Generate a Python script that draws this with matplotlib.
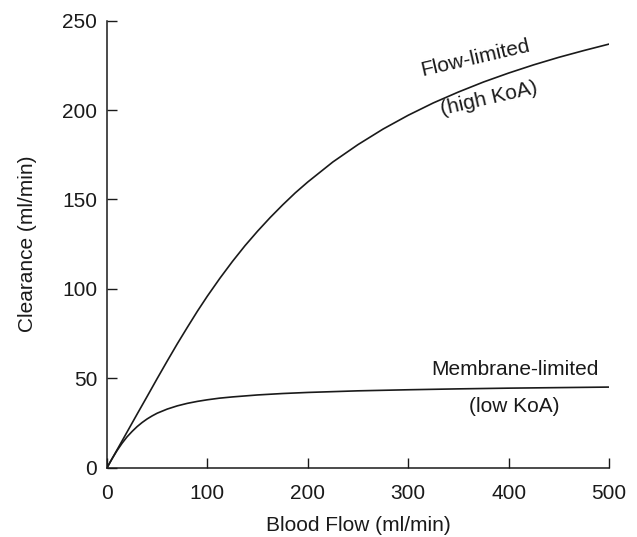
import matplotlib
matplotlib.use("Agg")
import matplotlib.pyplot as plt

# Data
flow_x = [0, 10, 20, 30, 40, 50, 60, 70, 80, 90, 100, 112.5, 125, 137.5, 150, 162.5, 175, 187.5,
          200, 225, 250, 275, 300, 325, 350, 375, 400, 425, 450, 475, 500]
flow_y = [0, 10, 20, 30, 39.9, 49.9, 59.7, 69.3, 78.5, 87.5, 96, 106, 115.4, 124.2, 132.3, 139.9,
          147, 153.7, 159.8, 171, 180.7, 189.4, 197.1, 204, 210.1, 215.7, 220.7, 225.3, 229.5, 233.3, 236.9]

memb_x = [0, 5, 10, 15, 20, 25, 30, 35, 40, 45, 50, 60, 70, 80, 90, 100, 112, 125, 150, 175,
          200, 250, 300, 350, 400, 450, 500]
memb_y = [0, 5, 9.6, 13.7, 17.3, 20.3, 23, 25.3, 27.3, 29, 30.5, 32.8, 34.6, 36, 37.1, 38, 38.9,
          39.6, 40.7, 41.5, 42.1, 43, 43.6, 44.1, 44.5, 44.8, 45.1]

x_ticks = [0, 100, 200, 300, 400, 500]
y_ticks = [0, 50, 100, 150, 200, 250]

plt.rcParams['font.family'] = ['Liberation Sans', 'DejaVu Sans']

fig = plt.figure(figsize=(6.37, 5.37), dpi=100)
ax = fig.add_axes([0.168, 0.129, 0.788, 0.8325])

col = '#1a1a1a'
ax.plot(flow_x, flow_y, color=col, lw=1.2, solid_joinstyle='round')
ax.plot(memb_x, memb_y, color=col, lw=1.2, solid_joinstyle='round')

ax.set_xlim(0, 500)
ax.set_ylim(0, 250)
ax.set_xticks(x_ticks)
ax.set_yticks(y_ticks)
ax.spines['top'].set_visible(False)
ax.spines['right'].set_visible(False)
for s in ['left', 'bottom']:
    ax.spines[s].set_linewidth(1.1)
    ax.spines[s].set_color(col)
fs = 15
ax.tick_params(axis='both', direction='in', length=7, width=1.0, color=col,
               labelsize=fs, labelcolor=col)
ax.tick_params(axis='x', pad=12)
ax.tick_params(axis='y', pad=7)

ax.set_xlabel('Blood Flow (ml/min)', fontsize=fs, color=col, labelpad=9)
ax.set_ylabel('Clearance (ml/min)', fontsize=fs, color=col, labelpad=18)

ax.text(367, 229, 'Flow-limited', fontsize=fs, color=col, rotation=13,
        ha='center', va='center')
ax.text(381, 206.5, '(high KoA)', fontsize=fs, color=col, rotation=13,
        ha='center', va='center')
ax.text(406, 54.7, 'Membrane-limited', fontsize=fs, color=col,
        ha='center', va='center')
ax.text(406, 34.5, '(low KoA)', fontsize=fs, color=col,
        ha='center', va='center')

fig.savefig('out.png', dpi=100)
